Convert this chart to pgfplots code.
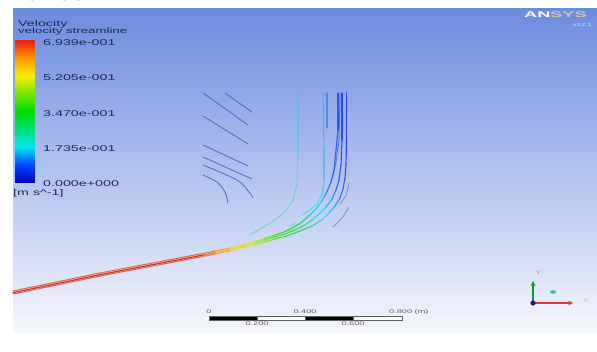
\documentclass[border=0pt]{standalone}
\usepackage{pgfplots}
\pgfplotsset{compat=1.18}
\usepackage{fontspec}
\setmainfont{Liberation Sans}
\usepackage{graphicx}
\newcommand{\sx}[1]{\scalebox{1.7}[1]{#1}}
\definecolor{bgtop}{RGB}{108,140,222}
\definecolor{bgbot}{RGB}{246,247,253}
\definecolor{lbl}{RGB}{30,40,85}
\definecolor{slblue}{RGB}{72,94,192}
\definecolor{lav}{RGB}{120,125,210}
\definecolor{sbgray}{RGB}{95,95,105}
\definecolor{darkred}{RGB}{150,20,25}
\begin{document}
\begin{tikzpicture}
\fill[white] (0,0) rectangle (597pt,352pt);
\begin{axis}[width=597pt,height=352pt,scale only axis,
  xmin=0,xmax=597,ymin=0,ymax=352,y dir=reverse,axis lines=none,clip=false,
  colormap={ansys}{rgb255(0cm)=(0,0,190) rgb255(1cm)=(0,70,255) rgb255(2cm)=(0,230,240) rgb255(4cm)=(0,220,0) rgb255(6cm)=(240,240,0) rgb255(7cm)=(255,150,0) rgb255(8cm)=(235,30,20)},
  point meta min=0, point meta max=0.6939]
% background panel
\fill[top color=bgtop, bottom color=bgbot] (axis cs:13,9) rectangle (axis cs:597,333);
% colorbar
\addplot[patch, shader=interp, point meta=explicit] coordinates {
 (15,183) [0] (35,183) [0] (35,147.25) [0.1735]
 (15,183) [0] (35,147.25) [0.1735] (15,147.25) [0.1735]
 (15,147.25) [0.1735] (35,147.25) [0.1735] (35,111.5) [0.347]
 (15,147.25) [0.1735] (35,111.5) [0.347] (15,111.5) [0.347]
 (15,111.5) [0.347] (35,111.5) [0.347] (35,75.75) [0.5205]
 (15,111.5) [0.347] (35,75.75) [0.5205] (15,75.75) [0.5205]
 (15,75.75) [0.5205] (35,75.75) [0.5205] (35,40) [0.6939]
 (15,75.75) [0.5205] (35,40) [0.6939] (15,40) [0.6939]
};
% left low-velocity streamlines
\addplot[slblue, line width=0.9pt, opacity=0.8, smooth] coordinates {(225,93) (252,112)};
\addplot[slblue, line width=0.9pt, opacity=0.8, smooth] coordinates {(203,93) (248,125)};
\addplot[slblue, line width=0.9pt, opacity=0.8, smooth] coordinates {(203,116) (248,144)};
\addplot[slblue, line width=0.9pt, opacity=0.8, smooth] coordinates {(203,145) (248,166)};
\addplot[slblue, line width=0.9pt, opacity=0.8, smooth] coordinates {(203,157) (252,179)};
\addplot[slblue, line width=0.9pt, opacity=0.8, smooth] coordinates {(203,165) (237,180) (249,192) (253,198)};
\addplot[slblue, line width=0.9pt, opacity=0.8, smooth] coordinates {(203,175) (217,182) (225,192) (228,203)};
% detached right streamlines
\addplot[lav, line width=0.9pt, opacity=0.75, smooth] coordinates {(349,183) (346,195) (340,204)};
\addplot[lav, line width=0.9pt, opacity=0.75, smooth] coordinates {(349,207) (342,218) (333,227)};
% faint middle streamlines
\addplot[mesh, point meta=explicit, line width=1.1pt, opacity=0.4, line cap=round] table[meta=c] {
x y c
298 93 0.19
298 150 0.19
297 185 0.20
293 200 0.21
285 212 0.22
272 222 0.23
258 230 0.24
250 235 0.25
};
\addplot[mesh, point meta=explicit, line width=1.1pt, opacity=0.45, line cap=round] table[meta=c] {
x y c
323 93 0.14
324 150 0.14
324 180 0.15
322 195 0.16
317 204 0.17
310 210 0.18
302 215 0.19
};
\addplot[mesh, point meta=explicit, line width=1.1pt, opacity=0.5, line cap=round] table[meta=c] {
x y c
327 93 0.11
327 128 0.11
};
\addplot[mesh, point meta=explicit, line width=1.1pt, opacity=0.45, line cap=round] table[meta=c] {
x y c
290 226 0.22
296 223 0.22
};
% main bundle
\addplot[mesh, point meta=explicit, line width=1.1pt, opacity=0.75, line cap=round, line join=round] table[meta=c] {
x y c
13 294 0.68
100 276 0.68
200 257 0.67
215 254 0.63
230 251 0.58
245 247 0.52
255 244.5 0.48
265 242 0.44
275 239 0.40
285 236.5 0.37
295 233 0.34
305 229 0.30
314 225 0.25
322 219.5 0.20
329 213 0.16
335 206 0.13
340 198 0.10
343 189 0.08
345 178 0.07
346 165 0.06
346.5 140 0.05
346.5 93 0.05
};
\addplot[mesh, point meta=explicit, line width=1.1pt, opacity=0.75, line cap=round, line join=round] table[meta=c] {
x y c
13 292.5 0.68
100 274.5 0.68
200 255.5 0.67
215 252.5 0.63
230 249.5 0.58
245 245.5 0.52
255 243 0.48
265 240 0.44
275 237 0.40
285 234 0.37
295 230 0.33
304 225.5 0.29
312 220 0.24
319 214 0.19
326 207 0.15
332 199 0.12
336 190 0.09
339 180 0.08
341 165 0.07
342 140 0.06
342 93 0.06
};
\addplot[mesh, point meta=explicit, line width=1.1pt, opacity=0.7, line cap=round, line join=round] table[meta=c] {
x y c
13 291 0.68
100 273 0.68
200 254 0.67
215 251 0.63
230 248 0.58
245 244 0.52
255 241.5 0.48
265 238.5 0.44
275 235 0.40
285 231.5 0.36
294 227 0.32
302 222 0.28
309 216 0.24
316 209 0.20
322 201 0.16
327 192 0.12
331 182 0.10
334 170 0.08
336 150 0.07
338 130 0.07
338 93 0.07
};
\addplot[mesh, point meta=explicit, line width=0.9pt, opacity=0.55, line cap=round, line join=round] table[meta=c] {
x y c
262 240 0.45
272 236.5 0.41
282 233 0.38
291 229 0.34
299 224 0.30
306 218.5 0.26
313 212 0.22
319 205 0.18
324 197 0.15
329 187 0.12
333 176 0.10
336 162 0.08
339 140 0.08
340 93 0.08
};
\addplot[darkred, line width=0.6pt, opacity=0.75] coordinates {(13,292.8) (100,274.8) (205,254.8)};
% legend texts
\node[anchor=base west, text=lbl, font=\fontsize{8.4}{9}\selectfont, inner sep=0] at (axis cs:18,27) {\sx{Velocity}};
\node[anchor=base west, text=lbl, font=\fontsize{7.8}{9}\selectfont, inner sep=0] at (axis cs:18,34) {\sx{velocity streamline}};
\node[anchor=base west, text=lbl, font=\fontsize{8.4}{9}\selectfont, inner sep=0] at (axis cs:43,46) {\sx{6.939e-001}};
\node[anchor=base west, text=lbl, font=\fontsize{8.4}{9}\selectfont, inner sep=0] at (axis cs:43,81) {\sx{5.205e-001}};
\node[anchor=base west, text=lbl, font=\fontsize{8.4}{9}\selectfont, inner sep=0] at (axis cs:43,116.5) {\sx{3.470e-001}};
\node[anchor=base west, text=lbl, font=\fontsize{8.4}{9}\selectfont, inner sep=0] at (axis cs:43,152) {\sx{1.735e-001}};
\node[anchor=base west, text=lbl, font=\fontsize{8.4}{9}\selectfont, inner sep=0] at (axis cs:43,187) {\sx{0.000e+000}};
\node[anchor=base west, text=lbl, font=\fontsize{8.4}{9}\selectfont, inner sep=0] at (axis cs:13,195.5) {\sx{[m s\^{}-1]}};
% top cut text
\node[anchor=base west, text=black, font=\fontsize{16}{18}\selectfont, inner sep=0] at (axis cs:13,0.5) {\sx{varios}};
% ANSYS logo
\node[anchor=base west, text=white, font=\bfseries\fontsize{8.3}{9}\selectfont, inner sep=0] at (axis cs:524,17.5) {\scalebox{2.2}[1]{AN}};
\node[anchor=base west, text={rgb,255:red,205;green,198;blue,160}, font=\bfseries\fontsize{8.3}{9}\selectfont, inner sep=0] at (axis cs:550,17.5) {\scalebox{2.2}[1]{SYS}};
\node[anchor=base east, text={rgb,255:red,215;green,222;blue,240}, font=\fontsize{4.5}{5}\selectfont, inner sep=0] at (axis cs:592,26.5) {\sx{v12.1}};
% scale bar
\filldraw[fill=black, draw=sbgray, line width=0.3pt] (axis cs:209,316) rectangle (axis cs:257,320);
\filldraw[fill=white, draw=sbgray, line width=0.3pt] (axis cs:257,316) rectangle (axis cs:305,320);
\filldraw[fill=black, draw=sbgray, line width=0.3pt] (axis cs:305,316) rectangle (axis cs:353,320);
\filldraw[fill=white, draw=sbgray, line width=0.3pt] (axis cs:353,316) rectangle (axis cs:402,320);
\node[anchor=base, text=sbgray, font=\fontsize{5.4}{6}\selectfont, inner sep=0] at (axis cs:209,314) {\sx{0}};
\node[anchor=base, text=sbgray, font=\fontsize{5.4}{6}\selectfont, inner sep=0] at (axis cs:305,314) {\sx{0.400}};
\node[anchor=base west, text=sbgray, font=\fontsize{5.4}{6}\selectfont, inner sep=0] at (axis cs:389,314) {\sx{0.800 (m)}};
\node[anchor=base, text=sbgray, font=\fontsize{5.4}{6}\selectfont, inner sep=0] at (axis cs:257,325.5) {\sx{0.200}};
\node[anchor=base, text=sbgray, font=\fontsize{5.4}{6}\selectfont, inner sep=0] at (axis cs:353,325.5) {\sx{0.600}};
% triad
\draw[-stealth, line width=1.3pt, color={rgb,255:red,20;green,150;blue,40}] (axis cs:533,303) -- (axis cs:533,281);
\draw[-stealth, line width=1.1pt, color={rgb,255:red,215;green,60;blue,60}] (axis cs:533,303) -- (axis cs:573,303);
\fill[color={rgb,255:red,20;green,30;blue,140}] (axis cs:533,303) circle (2.6pt);
\fill[color={rgb,255:red,40;green,190;blue,200}] (axis cs:553,292) ellipse (3pt and 1.8pt);
\node[text={rgb,255:red,150;green,180;blue,150}, font=\fontsize{5.5}{6}\selectfont, inner sep=0] at (axis cs:538.5,273) {\sx{Y}};
\node[text={rgb,255:red,220;green,175;blue,175}, font=\fontsize{5.5}{6}\selectfont, inner sep=0] at (axis cs:586,301) {\sx{X}};
\end{axis}
\pgfresetboundingbox
\path[use as bounding box] (0,0) rectangle (597pt,352pt);
\end{tikzpicture}
\end{document}
